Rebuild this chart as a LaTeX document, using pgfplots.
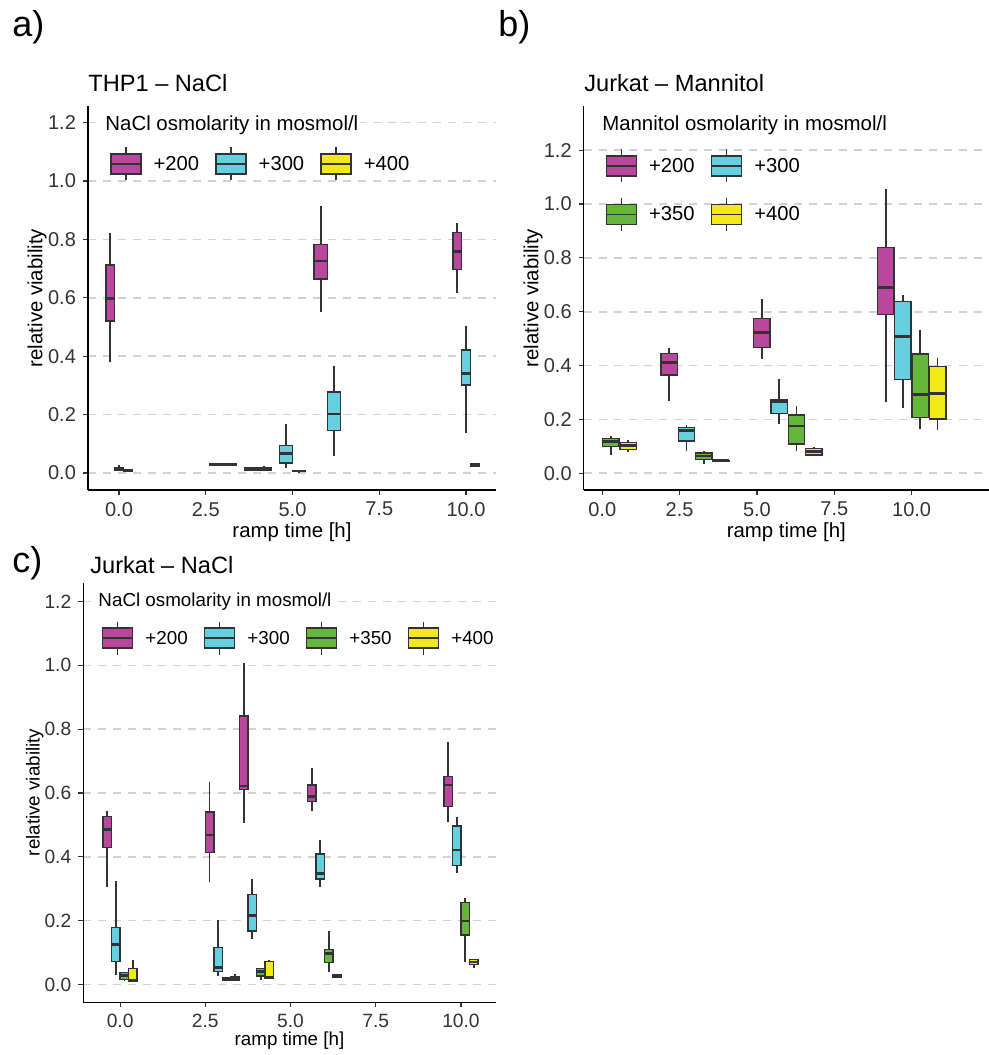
\documentclass[border=0pt]{standalone}
\usepackage{pgfplots}
\pgfplotsset{compat=1.18}
\usepgfplotslibrary{statistics}
\usepackage{fontspec}
\setmainfont{Liberation Sans}
\definecolor{mag}{HTML}{B8479D}
\definecolor{cya}{HTML}{66CFE0}
\definecolor{grn}{HTML}{66B53D}
\definecolor{yel}{HTML}{F2E91A}
\definecolor{dk}{HTML}{333333}
\definecolor{grd}{HTML}{D2D2D2}

\pgfplotsset{
  panel/.style={
    scale only axis,
    axis x line*=bottom, axis y line*=left,
    axis line style={draw=black, line width=0.6pt, -},
    tick align=outside, major tick length=2.5pt,
    tick style={draw=dk, line width=0.6pt},
    /pgf/number format/assume math mode=true,
    xtick={0,2.5,5,7.5,10}, xticklabels={0.0,2.5,5.0,7.5,10.0},
    ytick={0,0.2,0.4,0.6,0.8,1.0,1.2}, yticklabels={0.0,0.2,0.4,0.6,0.8,1.0,1.2},
    ymajorgrids,
    major grid style={draw=grd, line width=0.8pt, dash pattern=on 4pt off 3.5pt},
    tick label style={font=\fontsize{10}{12}\selectfont, text=dk},
    label style={font=\fontsize{10.2}{12}\selectfont, text=black},
    xlabel={ramp time [h]}, ylabel={relative viability},
    x label style={at={(axis description cs:0.5,0)}, anchor=center, yshift=-21pt},
    y label style={at={(axis description cs:-0.125,0.5)}, anchor=center},
    legend cell align=left,
    legend style={draw=none, fill=none, inner sep=0pt, outer sep=0pt, anchor=west,
      font=\fontsize{10.1}{12}\selectfont, row sep=7pt,
      /tikz/every odd column/.style={column sep=4pt},
      /tikz/every even column/.style={column sep=6pt}},
  },
  bp/.style={forget plot, draw=dk, line width=0.7pt,
    boxplot/draw direction=y,
    boxplot/whisker extend=0,
    boxplot/every whisker/.style={line width=0.85pt},
    boxplot/every median/.style={line width=1.4pt}},
  boxkey/.style={legend image code/.code={
    \draw[draw=dk, line width=0.8pt] (7.5pt,-7.75pt) -- (7.5pt,8.75pt);
    \filldraw[##1, draw=dk, line width=0.75pt] (0pt,-4.5pt) rectangle (15pt,5.5pt);
    \draw[draw=dk, line width=0.8pt] (0pt,0.5pt) -- (15pt,0.5pt);
  }},
}
% color, position, width, lower whisker, lower quartile, median, upper quartile, upper whisker
\newcommand{\bx}[8]{\addplot[bp, fill=#1, boxplot prepared={draw position=#2, box extend=#3,
  lower whisker=#4, lower quartile=#5, median=#6, upper quartile=#7, upper whisker=#8}] coordinates {};}

\begin{document}
\begin{tikzpicture}
\useasboundingbox (0,0) rectangle (494.5pt,527.5pt);

% ---------------- a) THP1 - NaCl
\node[anchor=west, font=\fontsize{18}{20}\selectfont, inner sep=0pt] at (6pt,514pt) {a)};
\node[anchor=west, font=\fontsize{11.8}{14}\selectfont, inner sep=0pt] at (44pt,486pt) {THP1 – NaCl};
\begin{axis}[panel, at={(44pt,282.5pt)}, anchor=south west, width=204pt, height=192pt,
  xmin=-0.894, xmax=10.865, ymin=-0.058, ymax=1.257,
  legend columns=3,
  legend style={at={(axis description cs:0.054,0.849)}}]
\addlegendimage{boxkey, fill=mag}\addlegendentry{+200}
\addlegendimage{boxkey, fill=cya}\addlegendentry{+300}
\addlegendimage{boxkey, fill=yel}\addlegendentry{+400}
\node[anchor=west, fill=white, inner sep=1pt, font=\fontsize{10.2}{12}\selectfont] at (axis description cs:0.037,0.9505) {NaCl osmolarity in mosmol/l};
\bx{mag}{-0.25}{0.25}{0.379}{0.521}{0.597}{0.712}{0.821}
\bx{cya}{0.0}{0.25}{0.007}{0.009}{0.013}{0.017}{0.027}
\bx{yel}{0.25}{0.25}{0.004}{0.006}{0.009}{0.012}{0.013}
\bx{cya}{2.8125}{0.375}{0.026}{0.027}{0.030}{0.033}{0.034}
\bx{yel}{3.1875}{0.375}{0.027}{0.028}{0.030}{0.032}{0.033}
\bx{cya}{3.8125}{0.375}{0.010}{0.011}{0.015}{0.018}{0.020}
\bx{yel}{4.1875}{0.375}{0.009}{0.011}{0.014}{0.017}{0.024}
\bx{cya}{4.8125}{0.375}{0.017}{0.034}{0.068}{0.095}{0.168}
\bx{yel}{5.1875}{0.375}{0.004}{0.005}{0.007}{0.009}{0.010}
\bx{mag}{5.8125}{0.375}{0.550}{0.664}{0.726}{0.782}{0.914}
\bx{cya}{6.1875}{0.375}{0.059}{0.145}{0.202}{0.278}{0.367}
\bx{mag}{9.75}{0.25}{0.618}{0.697}{0.760}{0.823}{0.855}
\bx{cya}{10.0}{0.25}{0.137}{0.301}{0.342}{0.422}{0.505}
\bx{yel}{10.25}{0.25}{0.023}{0.024}{0.027}{0.031}{0.032}
\end{axis}

% ---------------- b) Jurkat - Mannitol
\node[anchor=west, font=\fontsize{18}{20}\selectfont, inner sep=0pt] at (249pt,514pt) {b)};
\node[anchor=west, font=\fontsize{11.8}{14}\selectfont, inner sep=0pt] at (292pt,486pt) {Jurkat – Mannitol};
\begin{axis}[panel, at={(291.85pt,282.5pt)}, anchor=south west, width=202.65pt, height=192pt,
  xmin=-0.60, xmax=12.5, ymin=-0.062, ymax=1.364,
  y label style={at={(axis description cs:-0.1248,0.5)}},
  legend columns=2,
  legend style={at={(axis description cs:0.054,0.781)}}]
\addlegendimage{boxkey, fill=mag}\addlegendentry{+200}
\addlegendimage{boxkey, fill=cya}\addlegendentry{+300}
\addlegendimage{boxkey, fill=grn}\addlegendentry{+350}
\addlegendimage{boxkey, fill=yel}\addlegendentry{+400}
\node[anchor=west, fill=white, inner sep=1pt, font=\fontsize{10.2}{12}\selectfont] at (axis description cs:0.040,0.9497) {Mannitol osmolarity in mosmol/l};
\bx{grn}{0.28}{0.53}{0.068}{0.100}{0.117}{0.130}{0.138}
\bx{yel}{0.84}{0.53}{0.080}{0.089}{0.102}{0.115}{0.124}
\bx{mag}{2.16}{0.53}{0.270}{0.365}{0.411}{0.445}{0.464}
\bx{cya}{2.72}{0.53}{0.084}{0.120}{0.158}{0.169}{0.179}
\bx{grn}{3.28}{0.53}{0.035}{0.052}{0.064}{0.076}{0.084}
\bx{yel}{3.84}{0.53}{0.044}{0.045}{0.047}{0.048}{0.050}
\bx{mag}{5.16}{0.53}{0.423}{0.468}{0.522}{0.574}{0.646}
\bx{cya}{5.72}{0.53}{0.183}{0.223}{0.266}{0.272}{0.349}
\bx{grn}{6.28}{0.53}{0.084}{0.109}{0.176}{0.217}{0.251}
\bx{yel}{6.84}{0.53}{0.066}{0.068}{0.080}{0.093}{0.097}
\bx{mag}{9.16}{0.53}{0.264}{0.590}{0.689}{0.838}{1.055}
\bx{cya}{9.72}{0.53}{0.244}{0.349}{0.507}{0.637}{0.661}
\bx{grn}{10.28}{0.53}{0.163}{0.208}{0.294}{0.443}{0.532}
\bx{yel}{10.84}{0.53}{0.161}{0.202}{0.297}{0.396}{0.427}
\end{axis}

% ---------------- c) Jurkat - NaCl
\node[anchor=west, font=\fontsize{18}{20}\selectfont, inner sep=0pt] at (6pt,246pt) {c)};
\node[anchor=west, font=\fontsize{11.8}{14}\selectfont, inner sep=0pt] at (45pt,245pt) {Jurkat – NaCl};
\begin{axis}[panel, at={(41.65pt,26.35pt)}, anchor=south west, width=206.2pt, height=209.8pt,
  xmin=-1.08, xmax=11.02, ymin=-0.056, ymax=1.259,
  tick label style={font=\fontsize{9.6}{11}\selectfont},
  label style={font=\fontsize{9.4}{11}\selectfont},
  x label style={yshift=2pt},
  y label style={at={(axis description cs:-0.1174,0.5)}},
  legend columns=4,
  legend style={at={(axis description cs:0.045,0.868)}, font=\fontsize{9.4}{11}\selectfont}]
\addlegendimage{boxkey, fill=mag}\addlegendentry{+200}
\addlegendimage{boxkey, fill=cya}\addlegendentry{+300}
\addlegendimage{boxkey, fill=grn}\addlegendentry{+350}
\addlegendimage{boxkey, fill=yel}\addlegendentry{+400}
\node[anchor=west, fill=white, inner sep=1pt, font=\fontsize{9.4}{11}\selectfont] at (axis description cs:0.031,0.9547) {NaCl osmolarity in mosmol/l};
\bx{mag}{-0.375}{0.25}{0.304}{0.430}{0.486}{0.526}{0.545}
\bx{cya}{-0.125}{0.25}{0.029}{0.071}{0.124}{0.179}{0.325}
\bx{grn}{0.125}{0.25}{0.011}{0.016}{0.029}{0.037}{0.040}
\bx{yel}{0.375}{0.25}{0.010}{0.010}{0.013}{0.050}{0.077}
\bx{mag}{2.625}{0.25}{0.320}{0.414}{0.468}{0.541}{0.633}
\bx{cya}{2.875}{0.25}{0.026}{0.040}{0.052}{0.116}{0.202}
\bx{grn}{3.125}{0.25}{0.012}{0.014}{0.018}{0.022}{0.024}
\bx{yel}{3.375}{0.25}{0.012}{0.014}{0.018}{0.023}{0.034}
\bx{mag}{3.625}{0.25}{0.505}{0.611}{0.622}{0.841}{1.007}
\bx{cya}{3.875}{0.25}{0.141}{0.167}{0.215}{0.282}{0.329}
\bx{grn}{4.125}{0.25}{0.013}{0.026}{0.040}{0.050}{0.052}
\bx{yel}{4.375}{0.25}{0.019}{0.020}{0.023}{0.071}{0.078}
\bx{mag}{5.625}{0.25}{0.545}{0.573}{0.588}{0.625}{0.677}
\bx{cya}{5.875}{0.25}{0.306}{0.330}{0.348}{0.409}{0.453}
\bx{grn}{6.125}{0.25}{0.040}{0.069}{0.098}{0.110}{0.166}
\bx{yel}{6.375}{0.25}{0.022}{0.023}{0.026}{0.029}{0.031}
\bx{mag}{9.625}{0.25}{0.510}{0.557}{0.625}{0.651}{0.761}
\bx{cya}{9.875}{0.25}{0.350}{0.372}{0.421}{0.497}{0.524}
\bx{grn}{10.125}{0.25}{0.071}{0.155}{0.199}{0.256}{0.270}
\bx{yel}{10.375}{0.25}{0.053}{0.063}{0.070}{0.078}{0.080}
\end{axis}
\end{tikzpicture}
\end{document}
